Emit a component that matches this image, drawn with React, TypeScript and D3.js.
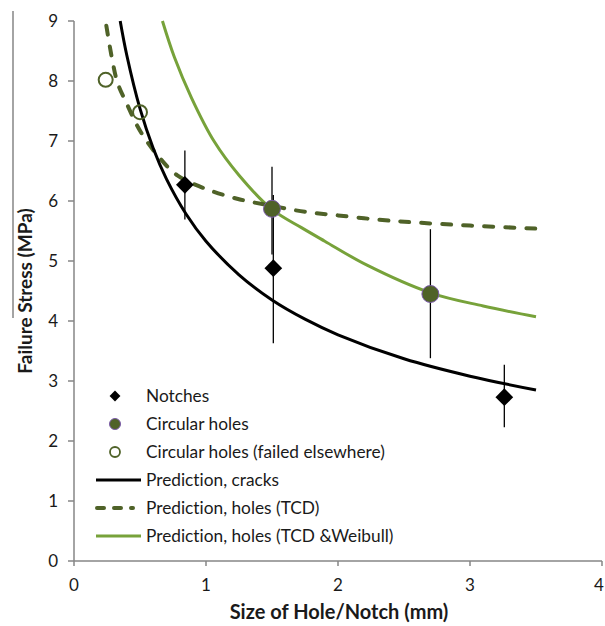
import React from 'react';
import * as d3 from 'd3';

// measured points (hole / notch size in mm, failure stress in MPa)
const notchX = [0.84, 1.51, 3.26];
const notchY = [6.27, 4.88, 2.73];
const notchLo = [5.69, 3.63, 2.23];
const notchHi = [6.84, 6.1, 3.27];

const holeX = [1.5, 2.7];
const holeY = [5.87, 4.45];
const holeLo = [5.11, 3.38];
const holeHi = [6.57, 5.53];

const failedX = [0.24, 0.5];
const failedY = [8.02, 7.48];

// prediction curves
const cracksX = [0.35, 0.4, 0.5, 0.6, 0.7, 0.85, 1.0, 1.25, 1.5, 1.75, 2.0, 2.5, 3.0, 3.5];
const cracksY = [9.0, 8.43, 7.54, 6.88, 6.37, 5.78, 5.33, 4.77, 4.35, 4.03, 3.77, 3.37, 3.08, 2.85];

const tcdX = [0.245, 0.29, 0.33, 0.4, 0.48, 0.55, 0.66, 0.78, 1.0, 1.25, 1.5, 1.75, 2.0, 2.3, 2.6, 3.0, 3.5];
const tcdY = [8.92, 8.35, 7.97, 7.62, 7.25, 7.0, 6.69, 6.43, 6.2, 6.03, 5.92, 5.82, 5.76, 5.69, 5.64, 5.59, 5.54];

const weibullX = [0.67, 0.76, 0.89, 1.06, 1.25, 1.5, 1.72, 1.9, 2.22, 2.7, 3.1, 3.5];
const weibullY = [9.0, 8.4, 7.72, 7.0, 6.43, 5.86, 5.56, 5.33, 4.93, 4.47, 4.25, 4.07];

const xTicks = [0, 1, 2, 3, 4];
const yTicks = [0, 1, 2, 3, 4, 5, 6, 7, 8, 9];

const legendLabels = [
  'Notches',
  'Circular holes',
  'Circular holes (failed elsewhere)',
  'Prediction, cracks',
  'Prediction, holes (TCD)',
  'Prediction, holes (TCD &Weibull)',
];

const W = 605, H = 626;
const FONT = 'Lato, "Open Sans", sans-serif';
const AXIS = '#868686';
const TXT = '#1a1a1a';
const DARK = '#4f6228';
const LIGHT = '#77a23a';

export default function App() {
  const x = d3.scaleLinear().domain([0, 4]).range([74, 602]);
  const y = d3.scaleLinear().domain([0, 9]).range([561, 21]);

  const line = d3.line<[number, number]>()
    .x(d => x(d[0]))
    .y(d => y(d[1]))
    .curve(d3.curveCatmullRom.alpha(0.5));

  const zip = (a: number[], b: number[]) => a.map((v, i) => [v, b[i]] as [number, number]);

  const diamond = d3.symbol().type(d3.symbolDiamond2);

  const legX = 115, legTextX = 146;
  const legY = (i: number) => 396 + i * 28;

  return (
    <svg width={W} height={H} style={{ position: 'absolute', left: 0, top: 0, background: '#fff', fontVariantLigatures: 'none' }}>
      {/* stray frame line on the left */}
      <line x1={13} x2={13} y1={11} y2={318} stroke={AXIS} strokeWidth={1.5} />

      {/* axes */}
      <line x1={x(0)} x2={x(0)} y1={y(9)} y2={y(0)} stroke={AXIS} strokeWidth={1.5} />
      <line x1={x(0)} x2={x(4)} y1={y(0)} y2={y(0)} stroke={AXIS} strokeWidth={1.5} />
      {yTicks.map(t => (
        <g key={'y' + t}>
          <line x1={x(0) - 6} x2={x(0)} y1={y(t)} y2={y(t)} stroke={AXIS} strokeWidth={1.5} />
          <text x={58} y={y(t)} dy="0.35em" textAnchor="end" fontFamily={FONT} fontSize={17} fill={TXT}>{t}</text>
        </g>
      ))}
      {xTicks.map(t => (
        <g key={'x' + t}>
          <line x1={x(t)} x2={x(t)} y1={y(0)} y2={y(0) + 5} stroke={AXIS} strokeWidth={1.5} />
          <text x={Math.min(x(t), 599)} y={585} dy="0.35em" textAnchor="middle" fontFamily={FONT} fontSize={17} fill={TXT}>{t}</text>
        </g>
      ))}
      <text x={339} y={612} dy="0.35em" textAnchor="middle" fontFamily={FONT} fontSize={20} fontWeight="bold" fill={TXT}>
        Size of Hole/Notch (mm)
      </text>
      <text transform={`translate(25,${y(4.5)}) rotate(-90)`} dy="0.35em" textAnchor="middle" fontFamily={FONT} fontSize={19} fontWeight="bold" fill={TXT}>
        Failure Stress (MPa)
      </text>

      {/* prediction curves */}
      <path d={line(zip(weibullX, weibullY)) || ''} fill="none" stroke={LIGHT} strokeWidth={3} />
      <path d={line(zip(tcdX, tcdY)) || ''} fill="none" stroke={DARK} strokeWidth={4} strokeDasharray="9,12" strokeLinecap="round" />
      <path d={line(zip(cracksX, cracksY)) || ''} fill="none" stroke="#000" strokeWidth={3} />

      {/* error bars */}
      {holeX.map((v, i) => (
        <line key={'he' + i} x1={x(v)} x2={x(v)} y1={y(holeLo[i])} y2={y(holeHi[i])} stroke="#000" strokeWidth={1.3} />
      ))}
      {notchX.map((v, i) => (
        <line key={'ne' + i} x1={x(v)} x2={x(v)} y1={y(notchLo[i])} y2={y(notchHi[i])} stroke="#000" strokeWidth={1.3} />
      ))}

      {/* points */}
      {failedX.map((v, i) => (
        <circle key={'f' + i} cx={x(v)} cy={y(failedY[i])} r={7} fill="none" stroke={DARK} strokeWidth={2} />
      ))}
      {holeX.map((v, i) => (
        <circle key={'h' + i} cx={x(v)} cy={y(holeY[i])} r={8.5} fill={DARK} stroke="#7a5aa8" strokeWidth={1} />
      ))}
      {notchX.map((v, i) => (
        <path key={'n' + i} d={diamond.size(200)() || ''} transform={`translate(${x(v)},${y(notchY[i])})`} fill="#000" />
      ))}

      {/* legend */}
      <path d={diamond.size(75)() || ''} transform={`translate(${legX},${legY(0)})`} fill="#000" />
      <circle cx={legX} cy={legY(1)} r={5.5} fill={DARK} stroke="#7a5aa8" strokeWidth={1} />
      <circle cx={legX} cy={legY(2)} r={5} fill="none" stroke={DARK} strokeWidth={1.8} />
      <line x1={96} x2={141} y1={legY(3)} y2={legY(3)} stroke="#000" strokeWidth={3} />
      <line x1={97} x2={133} y1={legY(4)} y2={legY(4)} stroke={DARK} strokeWidth={4} strokeDasharray="7,10" strokeLinecap="round" />
      <line x1={96} x2={141} y1={legY(5)} y2={legY(5)} stroke={LIGHT} strokeWidth={3} />
      {legendLabels.map((l, i) => (
        <text key={l} x={legTextX} y={legY(i)} dy="0.35em" fontFamily={FONT} fontSize={17.3} fill={TXT}>{l}</text>
      ))}
    </svg>
  );
}
